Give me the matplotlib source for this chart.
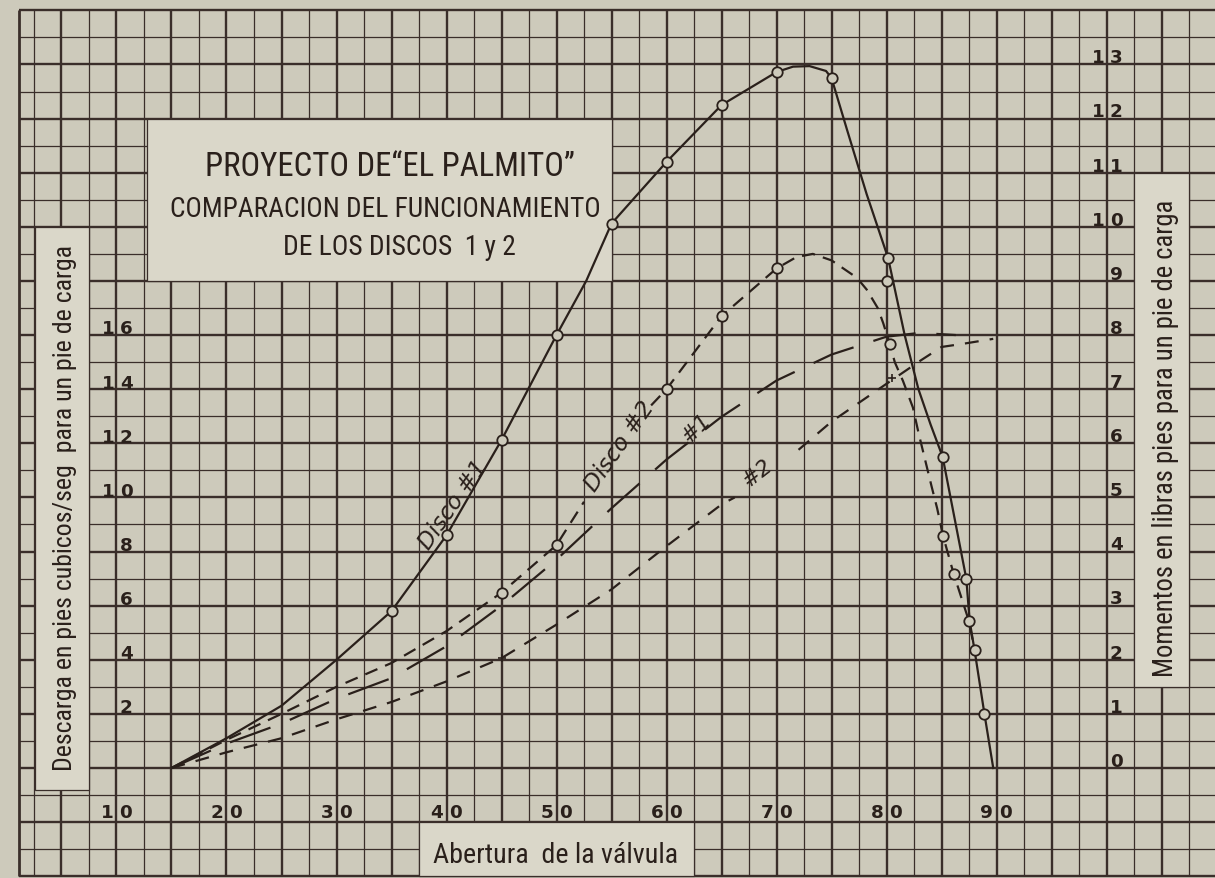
"""
Proyecto de "El Palmito": comparación del funcionamiento de los discos 1 y 2
Descarga y momentos frente a la abertura de la válvula (papel milimetrado).
"""

import os
import numpy as np
import matplotlib
matplotlib.use("Agg")
import matplotlib.pyplot as plt
from matplotlib import font_manager as fm
from matplotlib.patches import Rectangle

# ==========================================
# Datos
# ==========================================
abertura_ticks = [10, 20, 30, 40, 50, 60, 70, 80, 90]
momento_ticks = list(range(0, 14))            # eje derecho
descarga_ticks = [2, 4, 6, 8, 10, 12, 14, 16]  # eje izquierdo

# Disco #1 - momentos (línea continua)
mom1_x = [15, 20, 25, 30, 35, 40, 45, 50, 52.7, 55, 60, 65, 70, 71.5, 73, 74.5, 75,
          76.4, 78.2, 80.15, 81.65, 82.9, 84.0, 85.1, 87.25, 87.56, 88.0, 88.9, 89.7]
mom1_y = [0, 0.55, 1.15, 2.0, 2.9, 4.3, 6.06, 8.0, 9.0, 10.06, 11.2, 12.25, 12.86, 12.96, 12.97, 12.88, 12.75,
          11.8, 10.6, 9.42, 8.0, 7.0, 6.35, 5.75, 3.5, 2.71, 2.18, 1.0, 0.0]
mom1_pts_x = [35, 40, 45, 50, 55, 60, 65, 70, 75, 80.15, 80.0, 85.1, 87.25, 88.9]
mom1_pts_y = [2.9, 4.3, 6.06, 8.0, 10.06, 11.2, 12.25, 12.86, 12.75, 9.42, 9.0, 5.75, 3.5, 1.0]

# Disco #2 - momentos (trazos), cortada donde va el rótulo
mom2_x = [15, 20, 25, 30, 35, 40, 45, 50, 52.5, 58.6, 60, 65, 70, 71.8, 73.3, 75, 77.3, 78.2, 79.2, 79.7,
          80.3, 80.75, 81.5, 82.4, 82.9, 83.5, 84.1, 84.6, 85.15, 86.1, 87.5, 88.0]
mom2_y = [0, 0.52, 1.0, 1.5, 1.94, 2.53, 3.24, 4.12, 4.92, 6.7, 7.0, 8.35, 9.23, 9.44, 9.5, 9.38, 9.06, 8.84, 8.5, 8.22,
          7.83, 7.5, 7.15, 6.66, 6.2, 5.7, 5.2, 4.8, 4.28, 3.59, 2.71, 2.18]
mom2_hueco = (52.5, 58.6)
mom2_pts_x = [45, 50, 60, 65, 70, 80.3, 85.15, 86.1, 87.5, 88.0]
mom2_pts_y = [3.24, 4.12, 7.0, 8.35, 9.23, 7.83, 4.28, 3.59, 2.71, 2.18]

# Descarga disco #1 (trazo largo)
des1_x = [15, 20, 25, 30, 35, 40, 45, 50, 55, 60, 65, 70, 75, 80, 83, 86.3]
des1_y = [0, 0.9, 1.64, 2.56, 3.32, 4.5, 6.0, 7.7, 9.6, 11.4, 12.98, 14.32, 15.28, 15.94, 16.08, 16.0]

# Descarga disco #2 (trazo corto), cortada donde va el rótulo
des2_x = [15, 20, 25, 30, 35, 40, 45, 50, 55, 60, 65, 66.2, 72, 75, 80, 83.1, 85, 87, 89.7]
des2_y = [0, 0.58, 1.1, 1.8, 2.44, 3.2, 4.06, 5.3, 6.6, 8.2, 9.74, 10.0, 11.76, 12.8, 14.2, 15.06, 15.56, 15.68, 15.86]
des2_hueco = (66.2, 72)
des2_cruces_x = [45, 80.5]
des2_cruces_y = [4.06, 14.4]

# ==========================================
# Estilo
# ==========================================
PAPEL = "#cdcabb"
CAJA = "#dad7c9"
LINEA = "#3a2e2a"
TINTA = "#2a201b"

plt.rcParams["lines.scale_dashes"] = False
plt.rcParams["font.family"] = ["DejaVu Sans"]


def fuente_estrecha():
    """Busca una fuente condensada instalada para imitar la rotulación."""
    for fam in ["Liberation Sans Narrow", "DejaVu Sans Condensed", "Noto Sans Condensed",
                "Roboto Condensed", "Open Sans Condensed"]:
        try:
            fm.findfont(fm.FontProperties(family=fam), fallback_to_default=False)
            return {"family": fam}
        except ValueError:
            pass
    for fam in ["DejaVu Sans", "Noto Sans", "Open Sans", "Roboto"]:
        try:
            ruta = fm.findfont(fm.FontProperties(family=fam, stretch="condensed"),
                               fallback_to_default=False)
        except ValueError:
            continue
        nombre = os.path.basename(ruta).lower()
        if "condensed" in nombre or "narrow" in nombre:
            return {"family": fam, "stretch": "condensed"}
    return {"family": "DejaVu Sans"}


ROTULO = fuente_estrecha()
DIGITO = {"family": "DejaVu Sans", "weight": "bold", "fontsize": 13.2, "color": TINTA}

# límites de la figura en unidades del gráfico (x: grados, y: momentos)
X_MIN, X_MAX = -0.59, 109.86
M_MIN, M_MAX = -2.033, 14.21
X_BORDE = 1.1

fig = plt.figure(figsize=(12.15, 8.79), dpi=100, facecolor=PAPEL)
ax = fig.add_axes([0, 0, 1, 1])
ax.set_xlim(X_MIN, X_MAX)
ax.set_ylim(M_MIN, M_MAX)
ax.set_axis_off()
axd = ax.twinx()                      # escala de descarga = 2 x momentos
axd.set_ylim(2 * M_MIN, 2 * M_MAX)
axd.set_axis_off()

# ---- cuadrícula ----
xs = np.arange(2.5, 110.01, 2.5)
gruesas = np.isclose(xs % 5, 0)
ax.vlines(xs[gruesas], -2, 14, color=LINEA, lw=1.7, zorder=1)
ax.vlines(xs[~gruesas], -2, 14, color=LINEA, lw=0.9, zorder=1)
ys = np.arange(-2, 14.01, 0.5)
ent = np.isclose(ys % 1, 0)
ax.hlines(ys[ent], X_BORDE, X_MAX, color=LINEA, lw=1.7, zorder=1)
ax.hlines(ys[~ent], X_BORDE, X_MAX, color=LINEA, lw=0.9, zorder=1)
ax.vlines([X_BORDE], -2, 14, color=LINEA, lw=2.0, zorder=1)

# ---- recuadros de papel que tapan la cuadrícula ----
cajas = [(12.8, 9.0, 55.0, 12.0), (2.6, -0.4, 7.5, 10.0),
         (102.5, 1.5, 107.5, 11.0), (37.5, -2.0, 62.5, -1.0)]
for x0, y0, x1, y1 in cajas:
    ax.add_patch(Rectangle((x0, y0), x1 - x0, y1 - y0, facecolor=CAJA,
                           edgecolor=LINEA, lw=0.9, zorder=2))


# ---- curvas ----
def trazar(eje, xv, yv, hueco=None, **estilo):
    xv = np.asarray(xv, float)
    yv = np.asarray(yv, float)
    if hueco is None:
        eje.plot(xv, yv, **estilo)
        return
    izq = xv <= hueco[0]
    der = xv >= hueco[1]
    eje.plot(xv[izq], yv[izq], **estilo)
    eje.plot(xv[der], yv[der], **estilo)


trazar(ax, mom1_x, mom1_y, color=TINTA, lw=1.6, zorder=3)
trazar(ax, mom2_x, mom2_y, mom2_hueco, color=TINTA, lw=1.6, dashes=(9.5, 6), zorder=3)
circ = dict(ls="none", marker="o", ms=7.5, mfc=PAPEL, mec=TINTA, mew=1.3, zorder=4)
ax.plot(mom1_pts_x, mom1_pts_y, **circ)
ax.plot(mom2_pts_x, mom2_pts_y, **circ)

trazar(axd, des1_x, des1_y, color=TINTA, lw=1.6, dashes=(31, 15), zorder=3)
trazar(axd, des2_x, des2_y, des2_hueco, color=TINTA, lw=1.6, dashes=(10, 8), zorder=3)
axd.plot(des2_cruces_x, des2_cruces_y, ls="none", marker="+", ms=6, mec=TINTA, mew=1.2, zorder=4)

# ---- números de los ejes (la raya de la cuadrícula separa las cifras) ----
for v in abertura_ticks:
    s = str(v)
    ax.text(v - 0.3, -0.91, s[0], ha="right", va="baseline", zorder=5, **DIGITO)
    ax.text(v + 0.25, -0.91, s[1], ha="left", va="baseline", zorder=5, **DIGITO)

for m in momento_ticks:
    s = str(m)
    if len(s) == 2:
        ax.text(100 - 0.2, m + 0.04, s[0], ha="right", va="baseline", zorder=5, **DIGITO)
        ax.text(100 + 0.3, m + 0.04, s[1], ha="left", va="baseline", zorder=5, **DIGITO)
    else:
        ax.text(100 + 0.3, m + 0.04, s, ha="left", va="baseline", zorder=5, **DIGITO)

for d in descarga_ticks:
    s = str(d)
    if len(s) == 2:
        axd.text(10 - 0.2, d + 0.06, s[0], ha="right", va="baseline", zorder=5, **DIGITO)
        axd.text(10 + 0.3, d + 0.06, s[1], ha="left", va="baseline", zorder=5, **DIGITO)
    else:
        axd.text(10 + 0.3, d + 0.06, s, ha="left", va="baseline", zorder=5, **DIGITO)

# ---- rótulos ----
renderer = fig.canvas.get_renderer()


def ajustar(texto, largo_px):
    """Escala la letra para que el texto mida largo_px a lo largo de su renglón."""
    rot = texto.get_rotation()
    texto.set_rotation(0)
    ancho = texto.get_window_extent(renderer).width
    texto.set_fontsize(texto.get_fontsize() * largo_px / ancho)
    texto.set_rotation(rot)


rotulos = [
    (ax, 34.86, 10.95, 'PROYECTO DE“EL PALMITO”', 370, 0, "baseline"),
    (ax, 34.45, 10.20, "COMPARACION DEL FUNCIONAMIENTO", 431, 0, "baseline"),
    (ax, 35.73, 9.50, "DE LOS DISCOS  1 y 2", 233, 0, "baseline"),
    (ax, 5.32, 4.82, "Descarga en pies cubicos/seg  para un pie de carga", 527, 90, "center"),
    (ax, 105.32, 6.11, "Momentos en libras pies para un pie de carga", 477, 90, "center"),
    (ax, 49.9, -1.74, "Abertura  de la válvula", 245, 0, "baseline"),
]
for eje, x, y, s, largo, rot, va in rotulos:
    t = eje.text(x, y, s, ha="center", va=va, rotation=rot, color=TINTA,
                 fontsize=20, zorder=5, **ROTULO)
    ajustar(t, largo)

# rótulos manuscritos sobre las curvas
manuscritos = [
    (ax, 40.6, 4.88, "Disco #1", 103, 55),
    (ax, 55.77, 5.96, "Disco #2", 105, 55),
    (axd, 62.77, 12.6, "#1", 32, 45),
    (axd, 68.23, 10.94, "#2", 32, 38),
]
for eje, x, y, s, largo, rot in manuscritos:
    t = eje.text(x, y, s, ha="center", va="center", rotation=rot, rotation_mode="anchor",
                 style="italic", color=TINTA, fontsize=16, zorder=5, family="DejaVu Sans")
    ajustar(t, largo)

fig.savefig("out.png", dpi=100, facecolor=PAPEL)
